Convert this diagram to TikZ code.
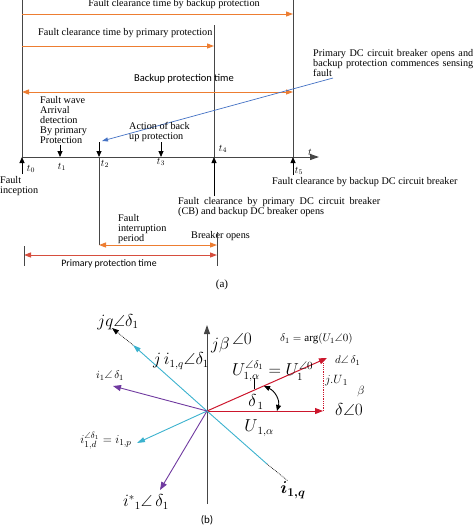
\documentclass[tikz,border=0pt]{standalone}
\usepackage{amssymb}
\usepackage{bm}
\usepackage{fontspec}
\setmainfont{Liberation Serif}
\newfontfamily\sansf{Carlito}
\usetikzlibrary{arrows.meta}
\definecolor{orng}{RGB}{237,125,49}
\definecolor{redor}{RGB}{214,78,62}
\definecolor{blu}{RGB}{68,114,196}
\definecolor{grayl}{RGB}{70,70,70}
\definecolor{phred}{RGB}{204,22,44}
\definecolor{cyn}{RGB}{60,178,206}
\definecolor{purp}{RGB}{112,58,160}
\begin{document}
\begin{tikzpicture}[x=1pt,y=-1pt,
  every node/.style={inner sep=0pt},
  lbl/.style={font=\fontsize{10.2}{10}\selectfont, align=left},
  sns/.style={font=\sansf\fontsize{10.5}{12}\selectfont},
  tl/.style={font=\fontsize{10}{12}\selectfont},
  gline/.style={draw=grayl, line width=0.9pt},
  oarrow/.style={draw=orng, line width=1pt, -{Triangle[length=7pt,width=5pt]}},
  oarrows/.style={draw=orng, line width=1pt, {Triangle[length=7pt,width=5pt]}-{Triangle[length=7pt,width=5pt]}},
  rarrows/.style={draw=redor, line width=1pt, {Triangle[length=7pt,width=5pt]}-{Triangle[length=7pt,width=5pt]}},
  barrow/.style={draw=blu, line width=0.7pt, -{Triangle[length=6pt,width=4pt]}},
  tick/.style={draw=black, line width=0.8pt, -{Triangle[length=6pt,width=5pt]}},
  axis/.style={draw=grayl, line width=1pt, -{Triangle[length=9pt,width=6pt]}},
  phr/.style={draw=phred, line width=1pt, -{Triangle[length=8pt,width=6pt]}},
  phc/.style={draw=cyn, line width=0.9pt, -{Triangle[length=8pt,width=5pt]}},
  php/.style={draw=purp, line width=0.9pt, -{Triangle[length=8pt,width=6pt]}},
  phl/.style={draw=cyn, line width=0.9pt},
  dotb/.style={draw=black, line width=0.7pt, densely dotted},
  ml/.style={font=\fontsize{11}{13}\selectfont},
  mlm/.style={font=\fontsize{13}{15}\selectfont},
  mlb/.style={font=\fontsize{16}{18}\selectfont}
]
\useasboundingbox (0,0) rectangle (474,528);
% ---------------- (a) ----------------
\coordinate (LT) at (22,0);   \coordinate (LB) at (22,157);
\coordinate (RT) at (293,0);  \coordinate (RB) at (293,157);
\coordinate (MT) at (214,25); \coordinate (MB) at (214,157);
\draw[gline] (LT) -- (LB);
\draw[gline] (RT) -- (RB);
\draw[gline] (MT) -- (MB);
\coordinate (A1) at (319,157);
\draw[axis] (LB) -- (A1);
\node[tl, anchor=south] (tt) at (310,156) {$t$};

\coordinate (c1s) at (22,14);  \coordinate (c1e) at (293,14);
\draw[oarrow] (c1s) -- (c1e);
\node[lbl] (tb) at (174,4) {Fault clearance time by backup protection};
\coordinate (c2s) at (22,46);  \coordinate (c2e) at (214,46);
\draw[oarrow] (c2s) -- (c2e);
\node[lbl, anchor=west] (tp) at (38,33) {Fault clearance time by primary protection};
\coordinate (c3s) at (22,92);  \coordinate (c3e) at (293,92);
\draw[oarrows] (c3s) -- (c3e);
\node[sns] (bpt) at (184,79) {Backup protection time};

\node[lbl, anchor=north west, align=left] (pdc) at (313,49)
  {\makebox[160pt][s]{Primary DC circuit breaker opens and}\\
   \makebox[160pt][s]{backup protection commences sensing}\\ fault};
\coordinate (bl1) at (333,78); \coordinate (bl2) at (102,141);
\draw[barrow] (bl1) -- (bl2);

\node[lbl, anchor=north west, align=left] (fw) at (40,96)
  {Fault wave\\ Arrival\\ detection\\ By primary\\ Protection};
\node[lbl, anchor=north west, align=left] (act) at (129,122)
  {Action of back\\ up protection};

% ticks
\coordinate (t0s) at (22,174);  \coordinate (t0e) at (22,157);
\draw[tick] (t0s) -- (t0e);
\coordinate (t1s) at (60,145);  \coordinate (t1e) at (60,157);
\draw[tick] (t1s) -- (t1e);
\coordinate (t2s) at (99,142);  \coordinate (t2e) at (99,157); \coordinate (t2b) at (99,245);
\draw[tick] (t2s) -- (t2e);
\draw[gline] (t2e) -- (t2b);
\coordinate (t3s) at (161,142); \coordinate (t3e) at (161,157);
\draw[tick] (t3s) -- (t3e);
\coordinate (t4s) at (214,196); \coordinate (t4e) at (214,157);
\draw[tick] (t4s) -- (t4e);
\coordinate (t5s) at (293,175); \coordinate (t5e) at (293,157);
\draw[tick] (t5s) -- (t5e);

\node[tl] (lt0) at (31,169) {$t_0$};
\node[tl] (lt1) at (62,167) {$t_1$};
\node[tl] (lt2) at (105,164) {$t_2$};
\node[tl] (lt3) at (161,162) {$t_3$};
\node[tl] (lt4) at (223,149) {$t_4$};
\node[tl] (lt5) at (299,171) {$t_5$};
\node[lbl, anchor=north west, align=left] (fi) at (0,176) {Fault\\ inception};

\node[lbl, anchor=west] (fcb) at (272,182) {Fault clearance by backup DC circuit breaker};
\node[lbl, anchor=north west, align=left] (fcp) at (178,197)
  {\makebox[202pt][s]{Fault clearance by primary DC circuit breaker}\\ (CB) and backup DC breaker opens};
\node[lbl, anchor=north west, align=left] (fip) at (118,214)
  {Fault\\ interruption\\ period};
\node[lbl, anchor=west] (bo) at (191,236) {Breaker opens};

\coordinate (o1) at (99,245); \coordinate (o2) at (217,245);
\draw[oarrows] (o1) -- (o2);
\coordinate (v1) at (217,232); \coordinate (v2) at (217,266);
\draw[gline] (v1) -- (v2);
\coordinate (r1) at (24,255); \coordinate (r2) at (217,255);
\draw[rarrows] (r1) -- (r2);
\coordinate (k1) at (24,246); \coordinate (k2) at (24,266);
\draw[gline] (k1) -- (k2);
\node[font=\sansf\fontsize{9.8}{11}\selectfont] (ppt) at (109,264) {Primary protection time};
\node[font=\fontsize{11}{13}\selectfont] (capa) at (222,285) {(a)};

% ---------------- (b) ----------------
\coordinate (O) at (207,411);
\coordinate (Ybot) at (207,504); \coordinate (Ytop) at (207,325);
\draw[axis] (Ybot) -- (Ytop);
\node[mlb, anchor=west] (jb) at (211,343) {$j\beta$\,\raisebox{5pt}{$\angle 0$}};
\node[ml, anchor=west] (darg) at (280,339) {$\delta_1 = \mathrm{arg}(U_1\angle 0)$};

% red vectors
\coordinate (Utip) at (327,358); \coordinate (Htip) at (323,411);
\draw[phr] (O) -- (Utip);
\draw[phr] (O) -- (Htip);
\draw[draw=phred, line width=0.8pt, densely dotted] (Htip) -- (323,363);
\node[ml, anchor=west] (dd) at (335,361) {$d\angle\,\delta_1$};
\node[mlm, anchor=west] (jU) at (325,381) {$j.U_{\,1}$};
\node[mlm] (bb) at (361,391) {$\beta$};
\node[mlb, anchor=west] (d0) at (335,409) {$\delta\angle 0$};
\node[mlb, anchor=west] (Ueq) at (232,371) {$U_{1,\alpha}^{\angle\delta_1} = U_1^{\angle 0}$};
\coordinate (cur1) at (254,378); \coordinate (cur2) at (254,389);
\draw[black, line width=0.6pt] (cur1) -- (cur2);
\node[mlb] (dl) at (256,402) {$\delta_{\,1}$};
\coordinate (arcA) at (264,386); \coordinate (arcB) at (277,411);
\draw[black, line width=0.9pt, {Triangle[length=6pt,width=5pt]}-{Triangle[length=6pt,width=5pt]}]
  (arcA) .. controls (275,391) and (280,400) .. (arcB);
\node[mlb] (Ua) at (259,428) {$U_{\,1,\alpha}$};

% cyan / purple vectors
\coordinate (c1) at (133,345); \coordinate (c1d) at (112,328);
\draw[phc] (O) -- (c1);
\draw[dotb, -{Triangle[length=7pt,width=5pt]}] (c1) -- (c1d);
\node[mlb] (jq) at (118,322) {$jq\angle\delta_1$};
\node[mlb] (jiq) at (181,361) {$j\,i_{1,q}\angle\delta_1$};

\coordinate (p1) at (113,386);
\draw[php] (O) -- (p1);
\node[ml] (i1d) at (110,376) {$i_1\angle\,\delta_1$};

\coordinate (c2) at (137,443);
\draw[phc] (O) -- (c2);
\node[font=\fontsize{12.5}{14}\selectfont] (idp) at (106,441) {$i_{1,d}^{\angle\delta_1} = i_{1,p}$};

\coordinate (p2) at (160,490);
\draw[php] (O) -- (p2);
\node[mlb] (istar) at (146,502) {$i^{*}{}_1\angle\,\delta_1$};

\coordinate (c3) at (267,464); \coordinate (c3d) at (288,481);
\draw[phl] (O) -- (c3);
\draw[dotb] (c3) -- (c3d);
\node[font=\fontsize{17}{19}\selectfont] (i1q) at (293,490) {$\bm{i_{1,q}}$};

\node[font=\sansf\fontsize{11}{13}\selectfont] (capb) at (207,520) {(b)};
\end{tikzpicture}
\end{document}
